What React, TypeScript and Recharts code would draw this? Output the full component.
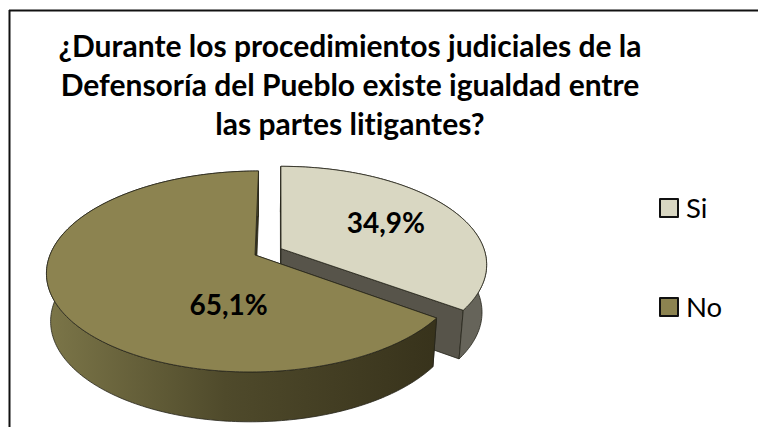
import { PieChart, Pie, Legend } from 'recharts'

const categories = ['Si', 'No']
const shares = [34.9, 65.1]
const titleLines = [
  '¿Durante los procedimientos judiciales de la',
  'Defensoría del Pueblo existe igualdad entre',
  'las partes litigantes?',
]

const topColors = ['#d9d7c2', '#8c8350']
const wallStops = [
  ['#5c5a4f', '#5e5c52', '#66645a'],
  ['#7b7548', '#4f4a2b', '#37321b'],
]
const cutColors = ['#57544a', '#37321b']
const explode = [0.143, 0]
// where the value sits on the (unprojected) unit disc
const labelSpots = [
  [0.669, -0.36],
  [-0.11, 0.46],
]

const FONT = 'Lato, Carlito, sans-serif'
const WIDTH = 758
const HEIGHT = 427
const CX = 255
const CY = 255
const RADIUS = 205

// perspective tilt of the disc and how the lower rim follows the upper one
const KEEN = -0.164
const TILT = 0.477
const VANISH_X = 25
const DEPTH = 47.5
const DROP_X = 0.98
const DROP_Y = 1.02

const data = categories.map((name, i) => ({ name, value: shares[i], fill: topColors[i] }))

type Pt = [number, number]

const project = (cx: number, cy: number, r: number, u: number, v: number): Pt => {
  const w = 1 + KEEN * v
  return [cx + VANISH_X + (r * u - VANISH_X) / w, cy + (r * TILT * v) / w]
}

const drop = (cx: number, cy: number, [x, y]: Pt): Pt => [
  cx + (x - cx) * DROP_X,
  cy + (y - cy) * DROP_Y + DEPTH,
]

const toPath = (pts: Pt[]) =>
  'M' + pts.map(([x, y]) => `${x.toFixed(2)},${y.toFixed(2)}`).join('L') + 'Z'

// one slice as a solid: cut faces and outer wall first, lid on top
function SolidSlice(props: any) {
  const { cx, cy, outerRadius, startAngle, endAngle, fill, index } = props
  const rad = Math.PI / 180
  const mid = ((startAngle + endAngle) / 2) * rad
  const ex = explode[index] ?? 0
  const offU = ex * Math.cos(mid)
  const offV = -ex * Math.sin(mid)

  const apex = project(cx, cy, outerRadius, offU, offV)
  const steps = Math.max(2, Math.ceil(Math.abs(endAngle - startAngle)))
  const rim: Pt[] = []
  for (let i = 0; i <= steps; i++) {
    const a = (startAngle + ((endAngle - startAngle) * i) / steps) * rad
    rim.push(project(cx, cy, outerRadius, Math.cos(a) + offU, -Math.sin(a) + offV))
  }
  const lowRim = rim.map((p) => drop(cx, cy, p))
  const lowApex = drop(cx, cy, apex)
  const edge = { stroke: '#26241a', strokeWidth: 0.8, strokeLinejoin: 'round' as const }
  const gradId = `wall-${index}`
  const stops = wallStops[index]

  return (
    <g>
      <defs>
        <linearGradient id={gradId} gradientUnits="userSpaceOnUse" x1={50} y1={0} x2={440} y2={0}>
          <stop offset="0%" stopColor={stops[0]} />
          <stop offset="45%" stopColor={stops[1]} />
          <stop offset="100%" stopColor={stops[2]} />
        </linearGradient>
      </defs>
      <path d={toPath([apex, rim[0], lowRim[0], lowApex])} fill={cutColors[index]} {...edge} />
      <path
        d={toPath([apex, rim[rim.length - 1], lowRim[lowRim.length - 1], lowApex])}
        fill={cutColors[index]}
        {...edge}
      />
      <path d={toPath([...rim, ...[...lowRim].reverse()])} fill={`url(#${gradId})`} {...edge} />
      <path d={toPath([apex, ...rim])} fill={fill} {...edge} />
    </g>
  )
}

function ValueLabel(props: any) {
  const { cx, cy, outerRadius, index, value } = props
  const [u, v] = labelSpots[index]
  const [x, y] = project(cx, cy, outerRadius, u, v)
  return (
    <text
      x={x}
      y={y}
      textAnchor="middle"
      dominantBaseline="central"
      fontFamily={FONT}
      fontWeight={700}
      fontSize={28}
      fill="#000"
    >
      {value.toFixed(1).replace('.', ',')}%
    </text>
  )
}

function SwatchLegend({ payload }: any) {
  return (
    <div>
      {(payload ?? []).map((item: any) => (
        <div
          key={item.value}
          style={{ display: 'flex', alignItems: 'center', height: 99, fontFamily: FONT, fontSize: 27.5 }}
        >
          <span
            style={{
              width: 16,
              height: 16,
              marginRight: 7,
              background: item.color,
              border: '2px solid #111',
              borderRadius: 1,
            }}
          />
          {item.value}
        </div>
      ))}
    </div>
  )
}

export default function App() {
  return (
    <div style={{ position: 'absolute', left: 0, top: 0, width: WIDTH, height: HEIGHT, background: '#fff' }}>
      <PieChart width={WIDTH} height={HEIGHT} margin={{ top: 0, right: 0, bottom: 0, left: 0 }}>
        <line x1={9} y1={10.5} x2={WIDTH} y2={10.5} stroke="#111" strokeWidth={2} />
        <line x1={9.5} y1={10} x2={9.5} y2={HEIGHT} stroke="#111" strokeWidth={2} />
        {titleLines.map((line, i) => (
          <text
            key={line}
            x={350}
            y={57 + i * 39}
            textAnchor="middle"
            fontFamily={FONT}
            fontWeight={700}
            fontSize={30}
            fill="#000"
            style={{ fontVariantLigatures: 'none' }}
          >
            {line}
          </text>
        ))}
        <Pie
          data={data}
          dataKey="value"
          nameKey="name"
          cx={CX}
          cy={CY}
          innerRadius={0}
          outerRadius={RADIUS}
          startAngle={90}
          endAngle={-270}
          paddingAngle={0}
          shape={SolidSlice}
          label={ValueLabel}
          labelLine={false}
          isAnimationActive={false}
        />
        <Legend
          layout="vertical"
          itemSorter={null}
          content={<SwatchLegend />}
          wrapperStyle={{ position: 'absolute', left: 659, top: 158, width: 90, height: 198, bottom: 'auto', right: 'auto' }}
        />
      </PieChart>
    </div>
  )
}
